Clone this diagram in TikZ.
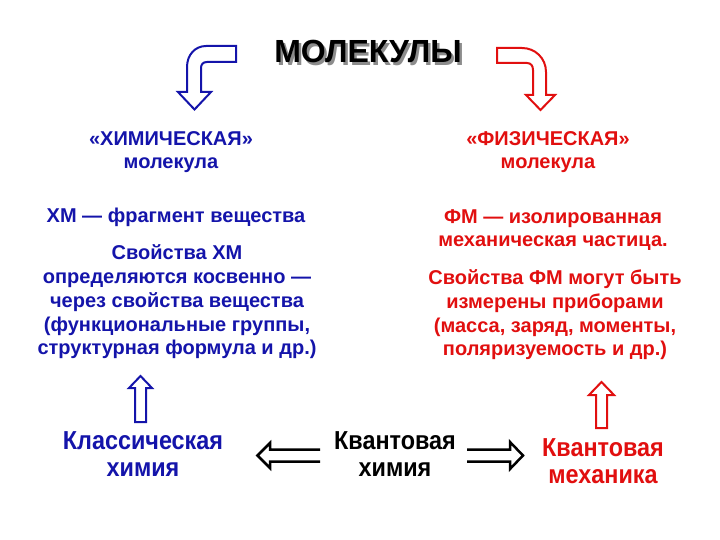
\documentclass[tikz,border=0pt]{standalone}
\usepackage{fontspec}
\setmainfont{Liberation Sans}
\newfontfamily\narrowfont[FakeStretch=0.9]{Liberation Sans}
\definecolor{myblue}{RGB}{20,20,170}
\definecolor{myred}{RGB}{225,15,15}
\begin{document}
\begin{tikzpicture}[x=1pt,y=-1pt,
  txt/.style={align=center, inner sep=0pt, font=\bfseries\fontsize{20}{23.7}\selectfont},
  big/.style={align=center, inner sep=0pt, font=\narrowfont\bfseries\fontsize{26}{26.5}\selectfont},
  titlefont/.style={inner sep=0pt, font=\bfseries\fontsize{32}{34}\selectfont},
  blockarrow/.style={line width=2pt, fill=white, line join=miter},
  dblarrow/.style={line width=2.5pt, black, line join=miter}]
\useasboundingbox (0,0) rectangle (720,540);

% title with shadow (one text)
\node[titlefont] (title) at (368,53)
  {\makebox[0pt][l]{\hspace{2.5pt}\raisebox{-2.5pt}{\color{black!45}МОЛЕКУЛЫ}}МОЛЕКУЛЫ};

% headers
\node[txt, text=myblue] (chem) at (171,152) {«ХИМИЧЕСКАЯ»\\молекула};
\node[txt, text=myred] (phys) at (548,152) {«ФИЗИЧЕСКАЯ»\\молекула};

% left text
\node[txt, text=myblue] (xm1) at (176,217) {ХМ — фрагмент вещества};
\node[txt, text=myblue] (xm2) at (177,302) {Свойства ХМ\\определяются косвенно —\\через свойства вещества\\(функциональные группы,\\структурная формула и др.)};

% right text
\node[txt, text=myred] (fm1) at (553,230) {ФМ — изолированная\\механическая частица.};
\node[txt, text=myred] (fm2) at (555,315) {Свойства ФМ могут быть\\измерены приборами\\(масса, заряд, моменты,\\поляризуемость и др.)};

% bottom
\node[big, text=myblue] (klass) at (143,454) {Классическая\\химия};
\node[big, text=black] (kvchem) at (395,454) {Квантовая\\химия};
\node[big, text=myred] (kvmech) at (603,461) {Квантовая\\механика};

% bent arrows
\draw[blockarrow, draw=myblue] (236,46) -- (206,46) .. controls (195,46) and (187,55) .. (187,67)
  -- (187,92) -- (178,92) -- (194.5,109.5) -- (211,92) -- (201,92) -- (201,68)
  .. controls (201,64.5) and (203,62) .. (207,62) -- (236,62) -- cycle;
\draw[blockarrow, draw=myred] (497,48) -- (522,48) .. controls (535,48) and (546,58) .. (546,72)
  -- (546,95) -- (555,95) -- (540.5,110) -- (526,95) -- (533,95) -- (533,70)
  .. controls (533,66) and (531,63) .. (527,63) -- (497,63) -- cycle;

% up arrows
\draw[blockarrow, draw=myblue] (135,422) -- (135,388) -- (129,388) -- (140.5,376) -- (152,388)
  -- (146,388) -- (146,422) -- cycle;
\draw[blockarrow, draw=myred] (596,428) -- (596,395) -- (589,395) -- (601.5,382) -- (614,395)
  -- (607,395) -- (607,428) -- cycle;

% horizontal double arrows
\draw[dblarrow] (320,449.5) -- (270,449.5) -- (270,443) -- (257.5,455.5) -- (270,468)
  -- (270,461.5) -- (320,461.5);
\draw[dblarrow] (467,449.5) -- (510,449.5) -- (510,442) -- (523,455.5) -- (510,469)
  -- (510,461.5) -- (467,461.5);
\end{tikzpicture}
\end{document}
